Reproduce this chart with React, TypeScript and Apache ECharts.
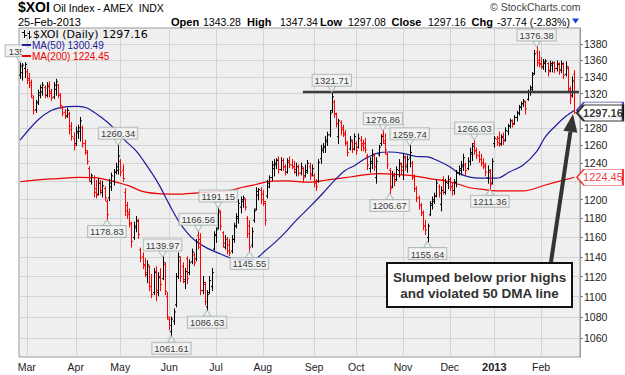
import { useEffect, useRef } from 'react';
import * as echarts from 'echarts';

// ---------- data ----------
const FIRST_DAY = '2012-02-27';
const LAST_DAY = '2013-02-25';
const HOLIDAYS = ['2012-04-06', '2012-05-28', '2012-07-04', '2012-09-03', '2012-10-29', '2012-10-30',
  '2012-11-22', '2012-12-25', '2013-01-01', '2013-01-21', '2013-02-18'];
const MONTHS = ['Jan', 'Feb', 'Mar', 'Apr', 'May', 'Jun', 'Jul', 'Aug', 'Sep', 'Oct', 'Nov', 'Dec'];

const OPEN = [
  1342, 1345, 1350, 1346, 1338, 1333, 1315, 1301, 1310, 1318,
  1322, 1327, 1318, 1330, 1322, 1316, 1325, 1330, 1318, 1303,
  1298, 1294, 1296, 1282, 1268, 1262, 1274, 1276, 1280, 1262,
  1252, 1234, 1220, 1224, 1212, 1206, 1218, 1208, 1212, 1198,
  1202, 1214, 1220, 1230, 1232, 1242, 1232, 1208, 1194, 1186,
  1174, 1160, 1170, 1177, 1147, 1140, 1132, 1122, 1130, 1110,
  1104, 1125, 1104, 1120, 1118, 1132, 1100, 1078, 1066, 1076,
  1092, 1120, 1136, 1130, 1115, 1138, 1124, 1135, 1142, 1138,
  1162, 1158, 1106, 1112, 1090, 1104, 1110, 1148, 1162, 1170,
  1186, 1165, 1150, 1158, 1152, 1146, 1158, 1172, 1180, 1192,
  1198, 1200, 1180, 1172, 1152, 1178, 1190, 1205, 1210, 1206,
  1196, 1204, 1214, 1224, 1234, 1238, 1244, 1233, 1243, 1236,
  1230, 1243, 1238, 1236, 1230, 1236, 1229, 1234, 1226, 1230,
  1236, 1228, 1226, 1220, 1220, 1245, 1254, 1258, 1264, 1272,
  1300, 1310, 1296, 1270, 1286, 1280, 1272, 1262, 1256, 1264,
  1256, 1262, 1258, 1266, 1262, 1262, 1248, 1234, 1240, 1248,
  1224, 1250, 1262, 1272, 1262, 1250, 1232, 1214, 1226, 1222,
  1232, 1238, 1236, 1246, 1236, 1246, 1240, 1224, 1212, 1202,
  1194, 1186, 1172, 1160, 1184, 1194, 1198, 1204, 1214, 1195,
  1222, 1208, 1218, 1222, 1214, 1210, 1219, 1229, 1232, 1236,
  1238, 1234, 1242, 1250, 1262, 1254, 1248, 1244, 1240, 1238,
  1224, 1230, 1218, 1262, 1267, 1268, 1262, 1270, 1266, 1276,
  1282, 1288, 1285, 1292, 1297, 1304, 1308, 1310, 1313, 1322,
  1325, 1344, 1370, 1360, 1356, 1352, 1356, 1356, 1348, 1354,
  1357, 1350, 1356, 1348, 1355, 1343, 1350, 1324, 1318, 1343.28,
];
const HIGH = [
  1357.2, 1356, 1357, 1349, 1344, 1336, 1317, 1312, 1324, 1330,
  1333, 1329, 1333, 1334, 1325, 1333, 1337, 1331, 1320, 1305,
  1301, 1303, 1298, 1286, 1274, 1281, 1283, 1292, 1282, 1266,
  1254, 1236, 1228, 1226, 1221, 1223, 1221, 1220, 1214, 1200,
  1222, 1229, 1233, 1240, 1260.34, 1244, 1238, 1212, 1197, 1190,
  1176, 1176, 1182, 1179, 1149, 1144, 1138, 1136, 1131, 1122,
  1128, 1130, 1124, 1128, 1139.97, 1134, 1104, 1080, 1080, 1088,
  1123, 1144, 1140, 1134, 1128, 1140, 1137, 1148, 1144, 1158,
  1166.56, 1164, 1120, 1114, 1106, 1120, 1128, 1166, 1170, 1191.15,
  1188, 1166, 1162, 1160, 1158, 1162, 1175, 1185, 1200, 1203,
  1204, 1201, 1182, 1178, 1170, 1190, 1213, 1212, 1213, 1210,
  1198, 1221, 1226, 1242, 1244, 1245, 1247, 1246, 1245, 1238,
  1245, 1247, 1244, 1242, 1240, 1238, 1240, 1235, 1238, 1243,
  1240, 1238, 1228, 1222, 1244, 1260, 1262, 1270, 1275, 1300,
  1321.71, 1312, 1297, 1290, 1288, 1283, 1277, 1264, 1270, 1266,
  1273, 1264, 1273, 1270, 1266, 1268, 1250, 1246, 1255, 1250,
  1246, 1260, 1272, 1276.86, 1273, 1251, 1234, 1231, 1229, 1236,
  1244, 1240, 1250, 1248, 1248, 1259.74, 1242, 1227, 1214, 1204,
  1196, 1188, 1178, 1174, 1198, 1203, 1207, 1221, 1216, 1214,
  1225, 1222, 1226, 1224, 1218, 1222, 1232, 1237, 1242, 1250,
  1240, 1246, 1257, 1262, 1266.03, 1257, 1253, 1250, 1245, 1240,
  1237, 1233, 1245, 1270, 1270, 1275, 1272, 1274, 1280, 1284,
  1290, 1289, 1294, 1299, 1306, 1310, 1313, 1311, 1324, 1329,
  1345, 1372, 1376.38, 1371, 1363, 1361, 1361, 1357, 1359, 1358,
  1358, 1359, 1357, 1359, 1357, 1358, 1352, 1328, 1340, 1347.34,
];
const LOW = [
  1338, 1336, 1339, 1332, 1327, 1315, 1296, 1298, 1307, 1315,
  1318, 1315, 1316, 1316, 1312, 1314, 1318, 1315, 1303, 1294,
  1291, 1292, 1273, 1266, 1255, 1260, 1268, 1265, 1258, 1250,
  1239, 1220, 1217, 1203, 1202, 1205, 1206, 1203, 1199, 1178.83,
  1199, 1210, 1216, 1228, 1228, 1226, 1220, 1183, 1180, 1171,
  1150, 1158, 1166, 1159, 1135, 1128, 1120, 1114, 1106, 1099,
  1102, 1096, 1101, 1106, 1117, 1102, 1078, 1068, 1061.61, 1073,
  1090, 1118, 1115, 1114, 1108, 1113, 1122, 1133, 1131, 1136,
  1148, 1102, 1103, 1092, 1086.63, 1103, 1106, 1147, 1155, 1169,
  1168, 1150, 1148, 1143, 1141, 1144, 1155, 1170, 1175, 1186,
  1192, 1189, 1160, 1145.55, 1150, 1176, 1189, 1200, 1196, 1194,
  1173, 1202, 1213, 1221, 1226, 1234, 1229, 1232, 1232, 1227,
  1229, 1235, 1234, 1229, 1226, 1226, 1227, 1219, 1225, 1229,
  1222, 1226, 1214, 1210, 1219, 1240, 1252, 1252, 1260, 1270,
  1298, 1292, 1281, 1262, 1272, 1270, 1260, 1248, 1255, 1252,
  1255, 1250, 1257, 1254, 1254, 1252, 1233, 1230, 1234, 1232,
  1218, 1248, 1260, 1262, 1250, 1234, 1206.67, 1213, 1215, 1221,
  1225, 1228, 1222, 1232, 1230, 1236, 1222, 1209, 1198, 1190,
  1183, 1168, 1163, 1155.64, 1183, 1190, 1196, 1203, 1203, 1188,
  1206, 1206, 1212, 1210, 1205, 1206, 1214, 1227, 1227, 1232,
  1227, 1233, 1238, 1243, 1250, 1245, 1241, 1237, 1234, 1226,
  1218, 1211.36, 1217, 1258, 1260, 1259, 1260, 1261, 1265, 1272,
  1280, 1281, 1284, 1288, 1295, 1301, 1305, 1296, 1312, 1318,
  1323, 1343, 1353, 1352, 1350, 1349, 1346, 1341, 1346, 1346,
  1345, 1347, 1343, 1345, 1338, 1341, 1322, 1308, 1316, 1297.08,
];
const CLOSE = [
  1353, 1354, 1355, 1336, 1330, 1318, 1300, 1309, 1321, 1327,
  1330, 1318, 1328, 1320, 1315, 1330, 1334, 1318, 1306, 1297,
  1293, 1300, 1278, 1270, 1260, 1276, 1280, 1288, 1262, 1254,
  1242, 1224, 1226, 1208, 1205, 1218, 1210, 1215, 1202, 1184,
  1218, 1226, 1230, 1236, 1248, 1230, 1223, 1188, 1184, 1175,
  1156, 1172, 1178, 1163, 1139, 1131, 1124, 1132, 1110, 1102,
  1124, 1106, 1119, 1112, 1134, 1105, 1080, 1072, 1078, 1085,
  1120, 1140, 1120, 1117, 1125, 1118, 1134, 1145, 1134, 1155,
  1150, 1106, 1114, 1095, 1102, 1116, 1124, 1163, 1168, 1188,
  1172, 1154, 1158, 1146, 1144, 1158, 1172, 1182, 1196, 1200,
  1202, 1192, 1164, 1150, 1166, 1188, 1209, 1211, 1200, 1198,
  1178, 1218, 1224, 1238, 1240, 1243, 1233, 1243, 1236, 1230,
  1241, 1238, 1236, 1233, 1236, 1229, 1236, 1224, 1232, 1240,
  1226, 1234, 1218, 1214, 1241, 1256, 1259, 1266, 1272, 1297,
  1316, 1296, 1285, 1288, 1278, 1274, 1264, 1252, 1266, 1256,
  1270, 1254, 1268, 1260, 1257, 1255, 1238, 1242, 1250, 1236,
  1242, 1258, 1270, 1265, 1255, 1238, 1212, 1226, 1220, 1233,
  1240, 1232, 1247, 1238, 1244, 1252, 1226, 1212, 1202, 1194,
  1186, 1172, 1168, 1172, 1196, 1200, 1204, 1218, 1207, 1210,
  1208, 1219, 1222, 1214, 1210, 1219, 1229, 1234, 1238, 1246,
  1232, 1242, 1252, 1259, 1254, 1249, 1244, 1240, 1236, 1230,
  1232, 1216, 1242, 1268, 1263, 1261, 1269, 1265, 1277, 1282,
  1288, 1284, 1292, 1297, 1304, 1308, 1311, 1302, 1322, 1327,
  1342, 1368, 1357, 1355, 1352, 1358, 1359, 1346, 1356, 1357,
  1350, 1355, 1348, 1356, 1342, 1352, 1326, 1316, 1334.9, 1297.16,
];

// moving averages: [trading-day index, value]
const MA50 = [[0, 1266], [8, 1289], [14, 1300], [21, 1304.5], [26, 1305], [30, 1303], [36, 1293], [42, 1280],
  [47, 1266], [52, 1254], [57, 1237], [62, 1218], [67, 1195], [71, 1178], [75, 1165], [79, 1156], [84, 1149],
  [90, 1143], [95, 1138.5], [100, 1137], [105, 1137.5], [110, 1146], [115, 1156], [119, 1165], [124, 1178],
  [130, 1192], [136, 1207], [142, 1223], [146, 1232], [150, 1237], [155, 1245], [161, 1251.5], [166, 1252.5],
  [172, 1251], [178, 1247.5], [183, 1247], [187, 1243.5], [193, 1236], [197, 1229], [202, 1224.5], [207, 1223.5],
  [214, 1223.5], [220, 1230.5], [226, 1238], [232, 1253], [236, 1270], [241, 1283.5], [245, 1293], [249, 1300.49]];
const MA200 = [[0, 1219.5], [8, 1221.5], [17, 1223], [26, 1224.4], [34, 1224], [39, 1221.5], [44, 1218.5],
  [49, 1215], [55, 1209], [62, 1206.5], [70, 1206], [80, 1207.5], [94, 1210], [100, 1213.5], [106, 1216.5],
  [112, 1220], [120, 1220.5], [130, 1219], [138, 1221.5], [149, 1225], [161, 1228.5], [172, 1227], [178, 1225.5],
  [184, 1223], [193, 1219.5], [202, 1213], [207, 1211.5], [214, 1209.5], [226, 1209.5], [236, 1216], [249, 1224.45]];

const Y_TICKS = [1060, 1080, 1100, 1120, 1140, 1160, 1180, 1200, 1220, 1240, 1260, 1280, 1300, 1320, 1340, 1360, 1380];
// tick labels hidden behind the price tags on the right edge
const Y_LABELS_COVERED = [1220, 1300];
const PEAK_LABELS = [0, 44, 64, 80, 89, 140, 163, 175, 204, 232];
const TROUGH_LABELS = [39, 68, 84, 103, 166, 183, 211];
const RESISTANCE_FROM = 127;
const RESISTANCE_VALUE = 1321.71;
const NOTE_LINES = ['Slumped below prior highs', 'and violated 50 DMA line'];

function tradingDays(): string[] {
  const out: string[] = [];
  const d = new Date(FIRST_DAY + 'T00:00:00Z');
  const end = new Date(LAST_DAY + 'T00:00:00Z');
  while (d.getTime() <= end.getTime()) {
    const wd = d.getUTCDay();
    const s = d.toISOString().slice(0, 10);
    if (wd !== 0 && wd !== 6 && HOLIDAYS.indexOf(s) < 0) out.push(s);
    d.setUTCDate(d.getUTCDate() + 1);
  }
  return out;
}

const LBL_BG = '#f4f4f4';
const LBL_BORDER = '#a3b3ac';
const PLOT_BG = '#efefef';
const F_ARIAL = '"Liberation Sans", Arial, sans-serif';
const F_VERD = '"DejaVu Sans", Verdana, sans-serif';

function buildOption() {
  const dates = tradingDays();
  const n = dates.length;
  const monthStart = new Set<number>();
  for (let i = 1; i < n; i++) if (dates[i].slice(5, 7) !== dates[i - 1].slice(5, 7)) monthStart.add(i);

  const ohlc = dates.map((_, i) => [i, OPEN[i], HIGH[i], LOW[i], CLOSE[i], i > 0 && CLOSE[i] < CLOSE[i - 1] ? 0 : 1]);
  const last = n - 1;
  const lastClose = CLOSE[last];
  const chg = lastClose - CLOSE[last - 1];
  const pct = (chg / CLOSE[last - 1]) * 100;
  const ma50Last = MA50[MA50.length - 1][1];
  const ma200Last = MA200[MA200.length - 1][1];
  const ld = dates[last];
  const dateText = `${ld.slice(8, 10)}-${MONTHS[+ld.slice(5, 7) - 1]}-${ld.slice(0, 4)}`;

  const labelCommon = {
    show: true,
    formatter: (p: any) => p.value[1].toFixed(2),
    backgroundColor: LBL_BG,
    borderColor: LBL_BORDER,
    borderWidth: 1,
    padding: [1, 2, 0, 2],
    fontSize: 9.5,
    lineHeight: 10,
    color: '#000',
    fontFamily: F_ARIAL,
    distance: 0,
  };

  const tagSymbol = 'path://M0,8 L7,0 L46,0 L46,16 L7,16 Z';

  const txt = (x: number, y: number, text: string, font: string, fill = '#000', align = 'left') => ({
    type: 'text', x, y, z: 60,
    style: { text, font, fill, textAlign: align, textVerticalAlign: 'middle' },
  });

  const hx = [171, 247, 320, 391.5, 471.5];
  const headerPairs: [string, string][] = [
    ['Open', OPEN[last].toFixed(2)],
    ['High', HIGH[last].toFixed(2)],
    ['Low', LOW[last].toFixed(2)],
    ['Close', lastClose.toFixed(2)],
    ['Chg', `${chg.toFixed(2)} (${pct.toFixed(2)}%)`],
  ];
  const valX = [203, 280, 348, 428, 497];

  const graphics: any[] = [
    txt(18, 7, '$XOI', `bold 14px ${F_ARIAL}`),
    txt(53, 7.5, 'Oil Index - AMEX  INDX', `10.5px ${F_ARIAL}`),
    txt(18, 21.5, dateText, `11px ${F_ARIAL}`),
    txt(490, 7, '\u00A9 StockCharts.com', `10.5px ${F_ARIAL}`, '#444'),
    { type: 'polygon', z: 60, shape: { points: [[572, 18.5], [579, 18.5], [575.5, 23.5]] }, style: { fill: '#1e3fd0' } },
    // legend
    { type: 'rect', z: 55, shape: { x: 21.5, y: 48, width: 24, height: 14 }, style: { fill: PLOT_BG } },
    { type: 'line', z: 60, shape: { x1: 24.5, y1: 30, x2: 24.5, y2: 38 }, style: { stroke: '#000', lineWidth: 1 } },
    { type: 'line', z: 60, shape: { x1: 22, y1: 32.5, x2: 24.5, y2: 32.5 }, style: { stroke: '#000', lineWidth: 1 } },
    { type: 'line', z: 60, shape: { x1: 24.5, y1: 35.5, x2: 27, y2: 35.5 }, style: { stroke: '#000', lineWidth: 1 } },
    { type: 'line', z: 60, shape: { x1: 29.5, y1: 31, x2: 29.5, y2: 39 }, style: { stroke: '#000', lineWidth: 1 } },
    { type: 'line', z: 60, shape: { x1: 27.5, y1: 33.5, x2: 29.5, y2: 33.5 }, style: { stroke: '#000', lineWidth: 1 } },
    { type: 'line', z: 60, shape: { x1: 29.5, y1: 37, x2: 31.5, y2: 37 }, style: { stroke: '#000', lineWidth: 1 } },
    txt(33, 34, `$XOI (Daily) ${lastClose.toFixed(2)}`, `11px ${F_VERD}`),
    { type: 'line', z: 60, shape: { x1: 22, y1: 45, x2: 31, y2: 45 }, style: { stroke: '#1c1c9c', lineWidth: 2 } },
    txt(32, 45, `MA(50) ${ma50Last.toFixed(2)}`, `10px ${F_ARIAL}`, '#1c1c9c'),
    { type: 'line', z: 60, shape: { x1: 22, y1: 56, x2: 31, y2: 56 }, style: { stroke: '#ee0000', lineWidth: 2 } },
    txt(32, 56, `MA(200) ${ma200Last.toFixed(2)}`, `10px ${F_ARIAL}`, '#ee0000'),
    // annotation
    { type: 'rect', z: 60, shape: { x: 387, y: 263, width: 185, height: 44 }, style: { fill: '#ffffff', stroke: '#111', lineWidth: 2 } },
    txt(479.5, 277, NOTE_LINES[0], `bold 13.5px ${F_ARIAL}`, '#333', 'center'),
    txt(479.5, 293, NOTE_LINES[1], `bold 13.5px ${F_ARIAL}`, '#333', 'center'),
    { type: 'line', z: 61, shape: { x1: 551, y1: 262, x2: 570.4, y2: 131.8 }, style: { stroke: '#333', lineWidth: 4 } },
    { type: 'polygon', z: 61, shape: { points: [[573, 114], [577.3, 132.8], [563.4, 130.8]] }, style: { fill: '#333' } },
  ];
  headerPairs.forEach(([k, v], j) => {
    graphics.push(txt(hx[j], 21.5, k, `bold 11px ${F_ARIAL}`));
    graphics.push(txt(valX[j], 21.5, v, `10.5px ${F_ARIAL}`));
  });

  return {
    animation: false,
    backgroundColor: '#ffffff',
    textStyle: { fontFamily: F_ARIAL },
    grid: { left: 19, right: 45, top: 28, bottom: 18, show: true, backgroundColor: PLOT_BG, borderColor: '#9a9a9a', borderWidth: 1 },
    xAxis: {
      type: 'category',
      data: dates,
      boundaryGap: true,
      max: n + 1,
      axisLine: { show: false },
      axisTick: { show: false },
      axisLabel: {
        interval: (i: number) => monthStart.has(i),
        formatter: (v: string) => {
          if (!v) return '';
          const m = +v.slice(5, 7);
          return m === 1 ? `{b|${v.slice(0, 4)}}` : MONTHS[m - 1];
        },
        margin: 4,
        fontSize: 10.5,
        color: '#222',
        fontFamily: F_ARIAL,
        rich: { b: { fontWeight: 'bold', fontSize: 11, color: '#222', fontFamily: F_ARIAL } },
      },
      splitLine: { show: true, interval: (i: number) => monthStart.has(i), alignWithLabel: true, lineStyle: { color: '#d3d3d3', width: 1 } },
    },
    yAxis: {
      type: 'log',
      logBase: 10,
      min: 1042,
      max: 1400,
      position: 'right',
      axisLine: { show: true, lineStyle: { color: '#9a9a9a' } },
      axisTick: { show: true, length: 3, customValues: Y_TICKS, lineStyle: { color: '#777' } },
      axisLabel: {
        customValues: Y_TICKS.filter((v) => Y_LABELS_COVERED.indexOf(v) < 0),
        margin: 4, fontSize: 10.5, color: '#222', fontFamily: F_ARIAL,
        formatter: (v: number) => String(Math.round(v)),
      },
      splitLine: { show: true, lineStyle: { color: '#d3d3d3', width: 1 } },
    },
    graphic: graphics,
    series: [
      {
        type: 'line', name: 'MA200', data: MA200, smooth: 0.35, showSymbol: false, symbol: 'none', z: 2,
        lineStyle: { color: '#ee0000', width: 1.2 },
      },
      {
        type: 'line', name: 'MA50', data: MA50, smooth: 0.35, showSymbol: false, symbol: 'none', z: 2,
        lineStyle: { color: '#1c1c9c', width: 1.2 },
      },
      {
        type: 'custom', name: 'XOI', data: ohlc, z: 3,
        encode: { x: 0, y: [1, 2, 3, 4] },
        renderItem: (_p: any, api: any) => {
          const idx = api.value(0);
          const pH = api.coord([idx, api.value(2)]);
          const pL = api.coord([idx, api.value(3)]);
          const pO = api.coord([idx, api.value(1)]);
          const pC = api.coord([idx, api.value(4)]);
          const color = api.value(5) ? '#000000' : '#ff0000';
          const x = Math.round(pH[0]) + 0.5;
          const st = { stroke: color, lineWidth: 1 };
          return {
            type: 'group',
            children: [
              { type: 'line', shape: { x1: x, y1: pH[1] - 0.5, x2: x, y2: pL[1] + 0.5 }, style: st },
              { type: 'line', shape: { x1: x - 1.5, y1: pO[1], x2: x, y2: pO[1] }, style: st },
              { type: 'line', shape: { x1: x, y1: pC[1], x2: x + 1.5, y2: pC[1] }, style: st },
            ],
          };
        },
      },
      {
        type: 'line', name: 'resistance', z: 4, showSymbol: false, symbol: 'none',
        data: [[RESISTANCE_FROM, RESISTANCE_VALUE], [n + 1, RESISTANCE_VALUE]],
        lineStyle: { color: '#3c3c3c', width: 2.5 },
      },
      {
        type: 'scatter', name: 'peaks', z: 5, clip: false,
        data: PEAK_LABELS.map((i) => (i === 0
          // first label is cut off by the chart's left edge, as in the original
          ? { value: [i, HIGH[i]], label: { width: 18, overflow: 'truncate', ellipsis: '', offset: [-3.5, 0] } }
          : [i, HIGH[i]])),
        symbol: 'path://M0,0 L10,0 L5,8 Z', symbolSize: [8, 6], symbolOffset: [0, -3],
        itemStyle: { color: LBL_BG, borderColor: LBL_BORDER, borderWidth: 1 },
        label: { ...labelCommon, position: 'top' },
      },
      {
        type: 'scatter', name: 'troughs', z: 5, clip: false,
        data: TROUGH_LABELS.map((i) => [i, LOW[i]]),
        symbol: 'path://M5,0 L10,8 L0,8 Z', symbolSize: [8, 6], symbolOffset: [0, 3],
        itemStyle: { color: LBL_BG, borderColor: LBL_BORDER, borderWidth: 1 },
        label: { ...labelCommon, position: 'bottom' },
      },
      {
        type: 'scatter', name: 'tag200', z: 6, clip: false,
        data: [[last, ma200Last]],
        symbol: tagSymbol, symbolSize: [46, 16], symbolOffset: [25.5, 0],
        itemStyle: { color: '#ffffff', borderColor: '#ee0000', borderWidth: 1.2 },
        label: { show: true, position: 'inside', offset: [3, 0], formatter: (p: any) => p.value[1].toFixed(2), color: '#ee0000', fontSize: 11, fontFamily: F_ARIAL },
      },
      {
        // MA(50) tag sits behind the close tag; only its outline shows
        type: 'scatter', name: 'tag50', z: 7, clip: false,
        data: [[last, ma50Last]],
        symbol: tagSymbol, symbolSize: [46, 16], symbolOffset: [25.5, 0],
        itemStyle: { color: '#ffffff', borderColor: '#1c1c9c', borderWidth: 1.2 },
      },
      {
        type: 'scatter', name: 'tagClose', z: 8, clip: false,
        data: [[last, lastClose]],
        symbol: tagSymbol, symbolSize: [46, 16], symbolOffset: [25.5, 0],
        itemStyle: { color: '#ffffff', borderColor: '#000000', borderWidth: 1.5 },
        label: { show: true, position: 'inside', offset: [3, 0], formatter: (p: any) => p.value[1].toFixed(2), color: '#000', fontSize: 11, fontWeight: 'bold', fontFamily: F_ARIAL },
      },
    ],
  };
}

export default function App() {
  const ref = useRef<HTMLDivElement>(null);
  useEffect(() => {
    const chart = echarts.init(ref.current!, null, { renderer: 'svg' });
    chart.setOption(buildOption() as any);
    return () => chart.dispose();
  }, []);
  return <div ref={ref} style={{ position: 'absolute', left: 0, top: 0, width: 625, height: 375 }} />;
}
